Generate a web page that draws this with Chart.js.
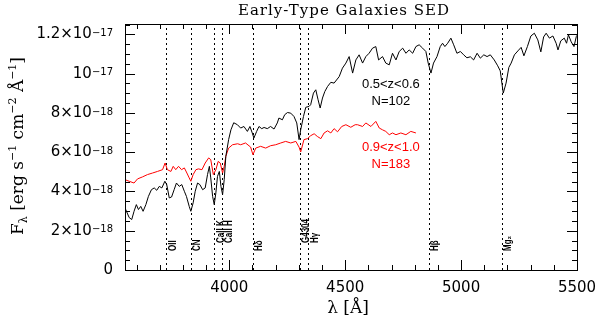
<!DOCTYPE html>
<html>
<head>
<meta charset="utf-8">
<script src="https://cdn.jsdelivr.net/npm/chart.js@4.4.0/dist/chart.umd.min.js"></script>
<style>
  html, body { margin: 0; padding: 0; background: #fff; }
</style>
</head>
<body>
<canvas id="sed" width="600" height="325"></canvas>
<script>
// wavelength in Angstrom, flux in units of 1e-18 erg/s/cm2/A
const lowzWave = [3550,3568,3579,3589,3599,3608,3618,3628,3640,3651,3664,3676,3687,3698,3709,3722,3730,3741,3751,3762,
  3772,3784,3795,3806,3815,3827,3834,3844,3853,3863,3873,3885,3896,3906,3914,3920,3928,3935,3942,3949,
  3957,3964,3971,3978,3985,3997,4007,4019,4035,4049,4063,4078,4089,4099,4106,4118,4128,4140,4150,4164,
  4178,4193,4207,4214,4229,4239,4251,4265,4279,4291,4301,4308,4320,4330,4344,4351,4363,4373,4383,4392,
  4402,4412,4424,4438,4452,4474,4488,4503,4517,4532,4546,4560,4575,4589,4603,4618,4632,4644,4661,4675,
  4690,4704,4719,4733,4748,4762,4776,4791,4805,4819,4834,4848,4858,4870,4881,4896,4910,4920,4930,4942,
  4956,4968,4982,4997,5011,5025,5040,5054,5069,5083,5098,5112,5126,5143,5158,5169,5177,5182,5194,5206,
  5216,5230,5245,5259,5271,5286,5301,5316,5331,5344,5356,5367,5381,5396,5410,5418,5430,5445,5455,5463,
  5475,5487,5497,5505];
const lowzFlux = [3.16,2.67,2.57,2.99,3.33,3.08,3.24,2.99,3.33,3.75,4.09,4.18,4.06,4.26,4.18,4.52,4.35,3.67,3.72,4.09,
  4.43,4.26,4.35,4.01,3.75,3.24,2.99,3.42,4.01,4.43,4.35,4.09,4.18,4.86,5.28,4.69,3.75,3.33,3.93,4.77,
  5.02,4.26,3.84,4.60,5.79,6.64,7.14,7.50,7.40,7.23,7.31,7.06,7.31,6.98,6.72,7.06,7.31,7.20,7.26,7.20,
  7.31,7.18,7.49,7.74,7.65,7.91,8.02,7.99,7.82,7.49,6.64,7.14,7.82,8.29,8.33,8.42,9.01,9.18,8.67,8.25,
  8.76,9.09,9.35,9.56,9.52,9.85,10.28,10.54,10.87,10.03,10.70,10.96,10.54,10.87,11.04,11.30,11.38,10.70,10.87,10.54,
  10.45,11.04,10.70,11.13,11.30,11.04,11.21,11.04,11.38,11.47,11.30,11.13,10.54,10.03,10.54,10.87,11.38,11.55,11.38,11.55,
  11.81,11.47,11.04,11.13,10.96,10.81,10.86,10.70,11.04,10.79,10.96,10.87,10.96,10.70,10.40,10.14,9.43,9.01,9.52,10.32,
  10.54,10.96,11.16,11.34,10.91,11.38,11.92,12.06,11.72,11.11,11.87,12.06,11.81,11.92,11.55,11.21,11.67,11.81,11.55,11.98,
  11.62,11.38,11.89,12.03];

const highzWave = [3550,3568,3589,3604,3625,3647,3669,3690,3712,3723,3733,3748,3758,3769,3781,3794,3806,3817,3827,3834,
  3844,3856,3867,3882,3896,3911,3920,3931,3942,3952,3961,3971,3978,3985,3997,4014,4036,4049,4070,4092,
  4102,4114,4135,4157,4178,4200,4222,4243,4265,4287,4301,4308,4322,4337,4351,4366,4380,4395,4409,4424,
  4438,4452,4467,4485,4503,4524,4543,4553,4575,4589,4611,4632,4647,4661,4675,4690,4704,4719,4740,4762,
  4783,4805];
const highzFlux = [4.60,4.52,4.43,4.64,4.74,4.86,4.94,5.02,5.11,5.45,5.11,5.02,5.28,5.11,5.28,5.11,5.20,4.94,4.69,4.52,
  4.86,5.11,5.15,5.11,5.45,5.71,5.62,4.86,5.11,5.53,5.45,4.94,5.28,5.79,6.21,6.38,6.43,6.38,6.47,6.26,
  5.87,6.21,6.30,6.21,6.33,6.38,6.47,6.55,6.47,6.55,6.26,6.01,6.64,6.69,6.84,6.94,6.80,6.69,6.98,7.09,
  6.98,7.20,7.04,7.31,7.40,7.27,7.40,7.40,7.31,7.49,7.31,7.57,7.23,7.14,7.06,6.89,6.98,6.89,6.98,6.89,
  7.06,6.98];

const lineWave = [3727, 3833, 3934, 3969, 4102, 4304, 4341, 4861, 5175];
const lineNames = ["OII", "CN", "CaII K", "CaII H", "H\u03b4", "G4304", "H\u03b3", "H\u03b2", "Mg\u2082"];

const xTickVals = [4000, 4500, 5000, 5500];
const yTickVals = [0, 2, 4, 6, 8, 10, 12];
const yTickBase = ["0", "2\u00d710", "4\u00d710", "6\u00d710", "8\u00d710", "10", "1.2\u00d710"];
const yTickExp = ["", "\u221218", "\u221218", "\u221218", "\u221218", "\u221217", "\u221217"];

// labels that sit a bit higher because they are paired
const lineLabelLift = [0, 0, 8, 8, 0, 8, 8, 0, 0];

function drawRun(ctx, parts) {
  let x = 0;
  for (const p of parts) {
    ctx.font = p[1];
    ctx.fillText(p[0], x, p[2]);
    x += ctx.measureText(p[0]).width;
  }
  return x;
}
function runWidth(ctx, parts) {
  let w = 0;
  for (const p of parts) { ctx.font = p[1]; w += ctx.measureText(p[0]).width; }
  return w;
}

const decor = {
  id: 'decor',
  beforeDatasetsDraw(chart) {
    const {ctx, chartArea: a, scales: {x}} = chart;
    ctx.save();
    ctx.strokeStyle = '#000';
    ctx.lineWidth = 1;
    ctx.setLineDash([2, 3]);
    lineWave.forEach(w => {
      const px = Math.round(x.getPixelForValue(w)) + 0.5;
      ctx.beginPath();
      ctx.moveTo(px, a.bottom);
      ctx.lineTo(px, a.top);
      ctx.stroke();
    });
    ctx.restore();
  },
  afterDatasetsDraw(chart) {
    const {ctx, chartArea: a, scales: {x, y}} = chart;
    ctx.save();
    ctx.strokeStyle = '#000';
    ctx.fillStyle = '#000';
    ctx.lineWidth = 1;
    ctx.strokeRect(a.left + 0.5, a.top + 0.5, a.right - a.left, a.bottom - a.top);

    // inward ticks on all four sides
    ctx.beginPath();
    for (let v = 3600; v <= 5500; v += 100) {
      const px = Math.round(x.getPixelForValue(v)) + 0.5;
      const len = v % 500 === 0 ? 10 : 5;
      ctx.moveTo(px, a.bottom); ctx.lineTo(px, a.bottom - len);
      ctx.moveTo(px, a.top); ctx.lineTo(px, a.top + len);
    }
    for (let v = 0; v <= 12.5; v += 0.5) {
      const py = Math.round(y.getPixelForValue(v)) + 0.5;
      const len = v % 2 === 0 ? 10 : 5;
      ctx.moveTo(a.left, py); ctx.lineTo(a.left + len, py);
      ctx.moveTo(a.right, py); ctx.lineTo(a.right - len, py);
    }
    ctx.stroke();

    // tick labels
    ctx.textBaseline = 'middle';
    ctx.textAlign = 'center';
    ctx.font = '15px "DejaVu Sans"';
    xTickVals.forEach(v => ctx.fillText(String(v), x.getPixelForValue(v), 288));
    ctx.textAlign = 'left';
    yTickVals.forEach((v, i) => {
      const py = y.getPixelForValue(v);
      ctx.font = '10px "DejaVu Sans"';
      const ew = ctx.measureText(yTickExp[i]).width;
      ctx.font = '15px "DejaVu Sans"';
      const bw = ctx.measureText(yTickBase[i]).width;
      const x0 = 113 - ew - bw;
      ctx.textBaseline = 'middle';
      ctx.fillText(yTickBase[i], x0, py);
      ctx.font = '10px "DejaVu Sans"';
      ctx.textBaseline = 'top';
      ctx.fillText(yTickExp[i], x0 + bw, py - 6);
    });

    // spectral line names, rotated
    lineWave.forEach((w, i) => {
      const px = x.getPixelForValue(w);
      ctx.save();
      ctx.translate(px + 9.5, 251 - lineLabelLift[i]);
      ctx.rotate(-Math.PI / 2);
      ctx.scale(0.8, 1);
      ctx.font = 'bold 10px "Liberation Sans"';
      ctx.textBaseline = 'alphabetic';
      ctx.textAlign = 'left';
      ctx.fillText(lineNames[i], 0, 0);
      ctx.restore();
    });

    // sample annotations
    ctx.textAlign = 'center';
    ctx.textBaseline = 'middle';
    ctx.font = '13px "Liberation Sans"';
    ctx.fillStyle = '#000';
    ctx.fillText('0.5<z<0.6', x.getPixelForValue(4697), y.getPixelForValue(9.43));
    ctx.fillText('N=102', x.getPixelForValue(4697), y.getPixelForValue(8.58));
    ctx.fillStyle = '#f00';
    ctx.fillText('0.9<z<1.0', x.getPixelForValue(4697), y.getPixelForValue(6.24));
    ctx.fillText('N=183', x.getPixelForValue(4697), y.getPixelForValue(5.36));

    // title
    ctx.fillStyle = '#000';
    ctx.font = '15px "DejaVu Serif"';
    ctx.letterSpacing = '1px';
    ctx.textBaseline = 'alphabetic';
    ctx.fillText('Early-Type Galaxies SED', 344, 15);
    ctx.letterSpacing = '0px';

    // x axis title
    ctx.textAlign = 'left';
    const xt = [['\u03bb [\u00c5]', '17px "DejaVu Serif"', 0]];
    ctx.save();
    ctx.translate(348 - runWidth(ctx, xt) / 2, 313);
    drawRun(ctx, xt);
    ctx.restore();

    // y axis title, rotated
    const yt = [
      ['F', '17px "DejaVu Serif"', 0],
      ['\u03bb', '11px "DejaVu Serif"', 4],
      [' [erg s', '17px "DejaVu Serif"', 0],
      ['\u22121', '11px "DejaVu Serif"', -7],
      [' cm', '17px "DejaVu Serif"', 0],
      ['\u22122', '11px "DejaVu Serif"', -7],
      [' \u00c5', '17px "DejaVu Serif"', 0],
      ['\u22121', '11px "DejaVu Serif"', -7],
      [']', '17px "DejaVu Serif"', 0]
    ];
    ctx.save();
    ctx.translate(23, 146 + runWidth(ctx, yt) / 2);
    ctx.rotate(-Math.PI / 2);
    drawRun(ctx, yt);
    ctx.restore();

    ctx.restore();
  }
};

new Chart(document.getElementById('sed'), {
  type: 'scatter',
  data: {
    datasets: [
      {
        label: '0.5<z<0.6',
        data: lowzWave.map((w, i) => ({x: w, y: lowzFlux[i]})),
        showLine: true, borderColor: '#000', borderWidth: 1, pointRadius: 0, tension: 0
      },
      {
        label: '0.9<z<1.0',
        data: highzWave.map((w, i) => ({x: w, y: highzFlux[i]})),
        showLine: true, borderColor: '#f00', borderWidth: 1, pointRadius: 0, tension: 0
      }
    ]
  },
  options: {
    responsive: false,
    animation: false,
    layout: { padding: { top: 24, right: 23, left: 0, bottom: 0 } },
    plugins: { legend: { display: false }, tooltip: { enabled: false }, title: { display: false } },
    scales: {
      x: {
        type: 'linear', min: 3550, max: 5500,
        grid: { display: false }, border: { display: false }, ticks: { display: false },
        afterFit(s) { s.height = 55; }
      },
      y: {
        min: 0, max: 12.53,
        grid: { display: false }, border: { display: false }, ticks: { display: false },
        afterFit(s) { s.width = 125; }
      }
    }
  },
  plugins: [decor]
});
</script>
</body>
</html>
